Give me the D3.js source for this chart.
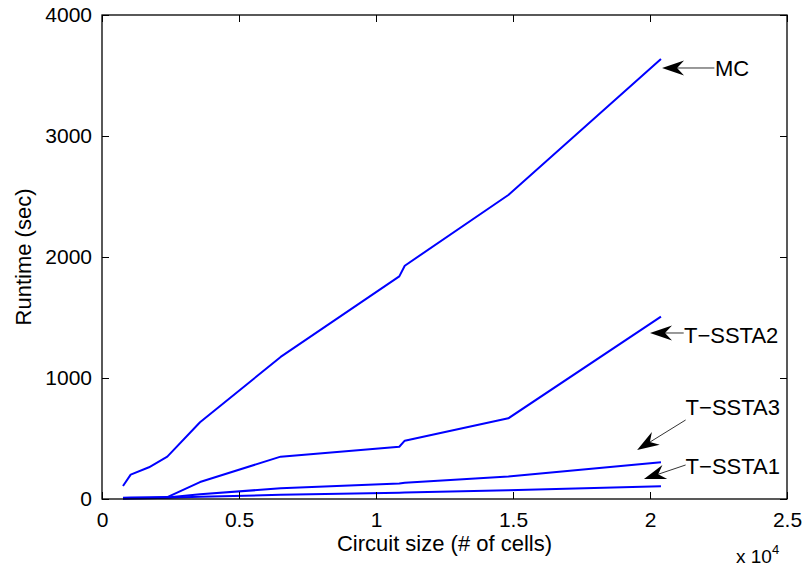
<!DOCTYPE html>
<html>
<head>
  <meta charset="UTF-8">
  <title>Runtime vs circuit size</title>
  <script src="https://d3js.org/d3.v7.min.js"></script>
  <style>
    html, body { margin: 0; padding: 0; background: #fff; }
    svg { display: block; font-family: "Liberation Sans", Arial, sans-serif; }
  </style>
</head>
<body>
  <svg width="804" height="571"></svg>
  <script>
    // circuit sizes (# of cells)
    const cells = [766, 1047, 1715, 2384, 3577, 6520, 10850, 11050, 14830, 20400];
    const mc     = [107, 201, 262, 350, 634, 1174, 1840, 1928, 2512, 3636];
    const tssta2 = [10, 12, 14, 16, 140, 350, 432, 482, 667, 1507];
    const tssta3 = [5, 6, 8, 12, 40, 88, 128, 135, 185, 303];
    const tssta1 = [3, 4, 6, 10, 18, 35, 52, 53, 72, 105];

    const xTicks = [0, 5000, 10000, 15000, 20000, 25000];
    const xTickLabels = ["0", "0.5", "1", "1.5", "2", "2.5"];
    const yTicks = [0, 1000, 2000, 3000, 4000];

    // annotation: arrow tip, arrow tail, text anchor (data units)
    const notes = [
      { label: "MC",           tip: [20440, 3562], tail: [22350, 3562], text: [22370, 3559] },
      { label: "T\u2212SSTA2", tip: [20000, 1372], tail: [21230, 1372], text: [21240, 1355] },
      { label: "T\u2212SSTA3", tip: [19530, 405],  tail: [21300, 653],  text: [21300, 756] },
      { label: "T\u2212SSTA1", tip: [19780, 165],  tail: [21300, 281],  text: [21300, 275] }
    ];

    const margin = { left: 102, top: 15, right: 17, bottom: 72 };
    const W = 804, H = 571;
    const svg = d3.select("svg");
    const font = "Liberation Sans, Arial, sans-serif";

    const x = d3.scaleLinear().domain([0, 25000]).range([margin.left, W - margin.right]);
    const y = d3.scaleLinear().domain([0, 4000]).range([H - margin.bottom, margin.top]);

    const series = [mc, tssta2, tssta3, tssta1];
    const line = d3.line().x((d, i) => x(cells[i])).y(d => y(d));

    svg.append("g")
      .selectAll("path")
      .data(series)
      .enter().append("path")
      .attr("d", d => line(d))
      .attr("fill", "none")
      .attr("stroke", "#0000ff")
      .attr("stroke-width", 2)
      .attr("stroke-linejoin", "round");

    // axes, MATLAB style: inward ticks on all sides
    const tickLen = 7;
    const tickFs = "21px";
    const fs = "22px";
    svg.append("g").attr("transform", `translate(0,${y(0)})`)
      .call(d3.axisBottom(x).tickValues(xTicks).tickFormat((d, i) => xTickLabels[i]).tickSizeInner(-tickLen).tickSizeOuter(0).tickPadding(13))
      .call(g => g.select(".domain").remove())
      .selectAll("text").attr("font-size", tickFs).attr("font-family", font).attr("fill", "#000");
    svg.append("g").attr("transform", `translate(0,${y(4000)})`)
      .call(d3.axisTop(x).tickValues(xTicks).tickFormat("").tickSizeInner(-tickLen).tickSizeOuter(0))
      .call(g => g.select(".domain").remove());
    svg.append("g").attr("transform", `translate(${x(0)},0)`)
      .call(d3.axisLeft(y).tickValues(yTicks).tickFormat(d3.format("d")).tickSizeInner(-tickLen).tickSizeOuter(0).tickPadding(10))
      .call(g => g.select(".domain").remove())
      .selectAll("text").attr("font-size", tickFs).attr("font-family", font).attr("fill", "#000");
    svg.append("g").attr("transform", `translate(${x(25000)},0)`)
      .call(d3.axisRight(y).tickValues(yTicks).tickFormat("").tickSizeInner(-tickLen).tickSizeOuter(0))
      .call(g => g.select(".domain").remove());

    svg.append("rect")
      .attr("x", x(0)).attr("y", y(4000))
      .attr("width", x(25000) - x(0)).attr("height", y(0) - y(4000))
      .attr("fill", "none").attr("stroke", "#000").attr("stroke-width", 1.3);

    // axis labels
    svg.append("text")
      .attr("x", (x(0) + x(25000)) / 2).attr("y", 551)
      .attr("text-anchor", "middle").attr("font-size", fs)
      .text("Circuit size (# of cells)");
    svg.append("text")
      .attr("transform", `translate(31,${(y(0) + y(4000)) / 2}) rotate(-90)`)
      .attr("text-anchor", "middle").attr("font-size", fs)
      .text("Runtime (sec)");
    const mult = svg.append("text").attr("x", 736).attr("y", 563).attr("font-size", "19px");
    mult.append("tspan").text("x 10");
    mult.append("tspan").attr("dy", -9).attr("font-size", "13px").text("4");

    // annotations with MATLAB-like arrowheads
    const ann = svg.append("g");
    notes.forEach(n => {
      const [tx, ty] = [x(n.tip[0]), y(n.tip[1])];
      const [sx, sy] = [x(n.tail[0]), y(n.tail[1])];
      const ang = Math.atan2(ty - sy, tx - sx);
      const len = 22, half = 7.5, back = 15;
      const c = Math.cos(ang), s = Math.sin(ang);
      const pt = (a, b) => [tx - a * c + b * s, ty - a * s - b * c];
      const p1 = pt(len, half), p2 = pt(back, 0), p3 = pt(len, -half);
      ann.append("line")
        .attr("x1", sx).attr("y1", sy).attr("x2", p2[0]).attr("y2", p2[1])
        .attr("stroke", "#000").attr("stroke-width", 0.8);
      ann.append("path")
        .attr("d", `M${tx},${ty}L${p1[0]},${p1[1]}L${p2[0]},${p2[1]}L${p3[0]},${p3[1]}Z`)
        .attr("fill", "#000");
      ann.append("text")
        .attr("x", x(n.text[0])).attr("y", y(n.text[1]))
        .attr("dy", "0.36em").attr("font-size", fs)
        .text(n.label);
    });
  </script>
</body>
</html>
